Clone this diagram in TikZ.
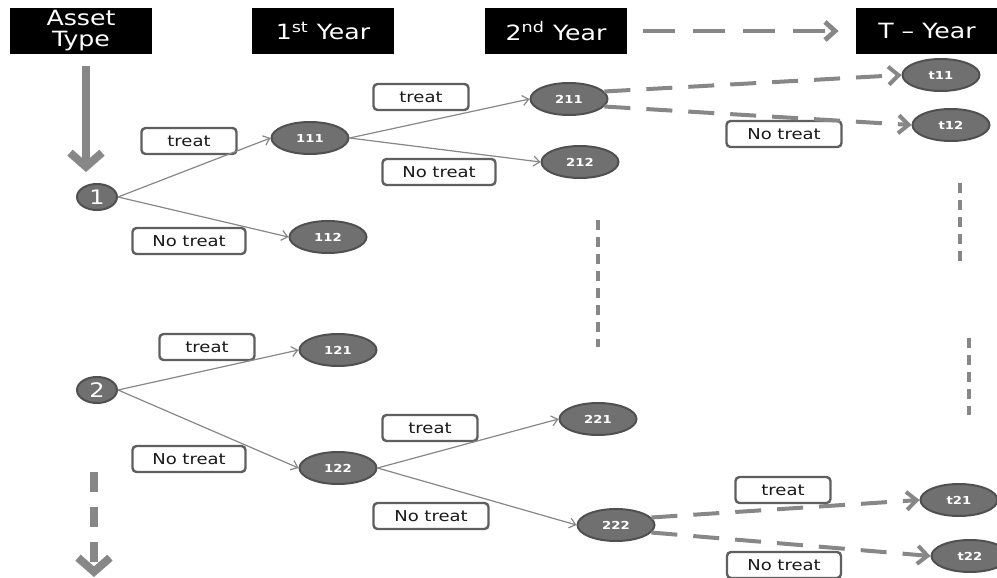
\documentclass[tikz,border=0pt]{standalone}
\usepackage{fontspec}
\setmainfont{DejaVu Sans}[FakeStretch=1.2]
\usepackage{tikz}
\definecolor{node-grey}{RGB}{112,112,112}
\definecolor{rim-grey}{RGB}{80,80,80}
\definecolor{line-grey}{RGB}{135,135,135}
\definecolor{box-grey}{RGB}{95,95,95}
\usetikzlibrary{arrows.meta,shapes.geometric,positioning}

\begin{document}
\begin{tikzpicture}[x=0.5pt,y=-0.5pt,
    header/.style={fill=black,text=white,minimum width=71pt,minimum height=23pt,
        inner sep=1pt,align=center,font=\fontsize{10.5}{10.5}\selectfont},
    state/.style={ellipse,draw=rim-grey,line width=1pt,fill=node-grey,text=white,
        minimum width=38.5pt,minimum height=16pt,inner sep=0pt,
        font=\bfseries\fontsize{5.5}{6}\selectfont},
    root/.style={state,minimum width=20pt,minimum height=13pt,
        font=\fontsize{10}{10}\selectfont},
    choice/.style={draw=box-grey,line width=1.2pt,rounded corners=2pt,fill=white,
        text=black!90,minimum width=#1,minimum height=13pt,inner sep=1pt,
        font=\fontsize{7.5}{8}\selectfont},
    choice/.default=47.5pt,
    branch/.style={draw=line-grey,line width=0.6pt,
        -{Straight Barb[length=3pt,width=5pt]}},
    later/.style={draw=line-grey,line width=2pt,dash pattern=on 13pt off 8pt,
        -{Straight Barb[length=5pt,width=9pt]}},
    gap/.style={draw=line-grey,line width=2pt,dash pattern=on 5pt off 3.5pt},
    down/.style={draw=line-grey,line width=4pt,
        -{Straight Barb[length=7pt,width=16pt]}}]
    \useasboundingbox (0,0) rectangle (997,578);

    % column heads
    \node[header] (asset) at (81,31) {Asset\\Type};
    \node[header] (year1) at (323,31) {1\textsuperscript{st} Year};
    \node[header] (year2) at (556,31) {2\textsuperscript{nd} Year};
    \node[header] (yearT) at (927,31) {T -- Year};
    \draw[later,line width=2.4pt,dash pattern=on 16pt off 9pt]
        ([xshift=8pt]year2.east) -- ([xshift=-8.5pt]yearT.west);

    % asset type 1
    \node[root] (n1) at (97,197) {1};
    \node[state] (n111) at (310,138) {111};
    \node[state] (n112) at (328,237) {112};
    \node[state] (n211) at (569,99) {211};
    \node[state] (n212) at (580,162) {212};
    \node[state] (t11) at (941,75) {t11};
    \node[state] (t12) at (951,125) {t12};

    % asset type 2
    \node[root] (n2) at (97,390) {2};
    \node[state] (n121) at (338,350) {121};
    \node[state] (n122) at (338,468) {122};
    \node[state] (n221) at (598,419) {221};
    \node[state] (n222) at (616,525) {222};
    \node[state] (t21) at (959,500) {t21};
    \node[state] (t22) at (970,556) {t22};

    % decisions
    \node[choice] (c1a) at (189,141) {treat};
    \node[choice=56.5pt] (c1b) at (189,241) {No treat};
    \node[choice] (c11a) at (421,97) {treat};
    \node[choice=56.5pt] (c11b) at (439,172) {No treat};
    \node[choice=57.5pt] (c21b) at (784,134) {No treat};
    \node[choice] (c2a) at (207,347) {treat};
    \node[choice=56.5pt] (c2b) at (189,459) {No treat};
    \node[choice] (c12a) at (430,428) {treat};
    \node[choice=57.5pt] (c12b) at (431,516) {No treat};
    \node[choice] (c22a) at (783,490) {treat};
    \node[choice=57pt] (c22b) at (784,565) {No treat};

    % transitions
    \draw[down] ([yshift=-6pt]asset.south -| 86,0) -- (86,172);
    \draw[down,dash pattern=on 10pt off 7.5pt] (94,472) -- (94,577);
    \draw[branch] (n1.east) -- (n111.west);
    \draw[branch] (n1.east) -- (n112.west);
    \draw[branch] (n111.east) -- (n211.west);
    \draw[branch] (n111.east) -- (n212.west);
    \draw[branch] (n2.east) -- (n121.west);
    \draw[branch] (n2.east) -- (n122.west);
    \draw[branch] (n122.east) -- (n221.west);
    \draw[branch] (n122.east) -- (n222.west);
    \draw[later] (n211.12) -- (t11.west);
    \draw[later] (n211.-12) -- (t12.west);
    \draw[later] (n222.12) -- (t21.west);
    \draw[later] (n222.-12) -- (t22.west);

    % more years and more assets
    \draw[gap] (598,220) -- (598,347);
    \draw[gap] (960,183) -- (960,265);
    \draw[gap] (969,338) -- (969,415);
\end{tikzpicture}
\end{document}
